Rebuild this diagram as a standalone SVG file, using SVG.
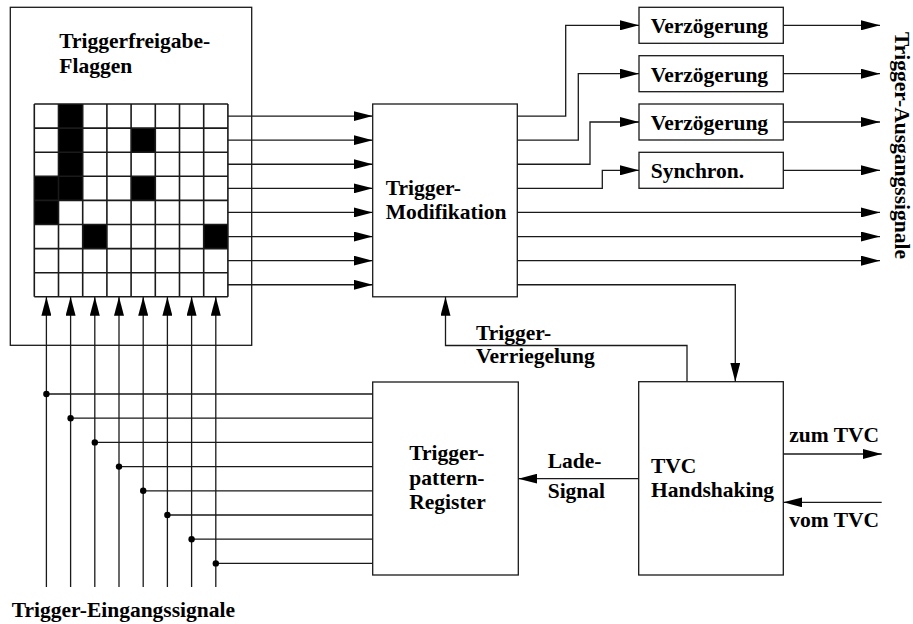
<svg xmlns="http://www.w3.org/2000/svg" width="913" height="624" viewBox="0 0 913 624">
<style>
.b{fill:#fff;stroke:#1a1a1a;stroke-width:1.3}
.t{font-family:"Liberation Serif","Times New Roman",serif;font-weight:bold;font-size:21.5px;fill:#000}
.c{fill:none;stroke:#1a1a1a;stroke-width:1.3}
.g{fill:none;stroke:#1a1a1a;stroke-width:1.6}
</style>
<defs>
<marker id="ah" viewBox="0 0 19 10" refX="19" refY="5" markerWidth="19" markerHeight="10" markerUnits="userSpaceOnUse" orient="auto">
<path d="M0 0L19 5L0 10z" fill="#000"/>
</marker>
</defs>
<rect width="913" height="624" fill="#fff"/>

<g id="flags">
<rect class="b" x="10.3" y="7.3" width="241.4" height="338"/>
<text class="t" x="59.3" y="47.7">Triggerfreigabe-</text>
<text class="t" x="59.3" y="72.7">Flaggen</text>
<g fill="#000">
<rect x="58.5" y="104" width="24.2" height="72.3"/>
<rect x="131.1" y="128.1" width="24.2" height="24.1"/>
<rect x="34.3" y="176.3" width="48.4" height="24.1"/>
<rect x="131.1" y="176.3" width="24.2" height="24.1"/>
<rect x="34.3" y="200.4" width="24.2" height="24.1"/>
<rect x="82.7" y="224.5" width="24.2" height="24.1"/>
<rect x="203.7" y="224.5" width="24.2" height="24.1"/>
</g>
<path class="g" d="M34.3 104V296.8M58.5 104V296.8M82.7 104V296.8M106.9 104V296.8M131.1 104V296.8M155.3 104V296.8M179.5 104V296.8M203.7 104V296.8M227.9 104V296.8M34.3 104H227.9M34.3 128.1H227.9M34.3 152.2H227.9M34.3 176.3H227.9M34.3 200.4H227.9M34.3 224.5H227.9M34.3 248.6H227.9M34.3 272.7H227.9M34.3 296.8H227.9"/>
</g>

<g id="modifikation">
<rect class="b" x="372.7" y="104" width="144.6" height="192.8"/>
<text class="t" x="385.7" y="195">Trigger-</text>
<text class="t" x="385.7" y="219.3">Modifikation</text>
</g>

<g id="delay1">
<rect class="b" x="639" y="7.3" width="144.3" height="36"/>
<text class="t" x="650.7" y="33.3">Verzögerung</text>
</g>
<g id="delay2">
<rect class="b" x="639" y="55.7" width="144.3" height="36"/>
<text class="t" x="650.7" y="81.7">Verzögerung</text>
</g>
<g id="delay3">
<rect class="b" x="639" y="104" width="144.3" height="36"/>
<text class="t" x="650.7" y="130">Verzögerung</text>
</g>
<g id="synchron">
<rect class="b" x="639" y="152.3" width="144.3" height="36"/>
<text class="t" x="650.7" y="178.3">Synchron.</text>
</g>

<g id="register">
<rect class="b" x="372.7" y="382" width="145.6" height="193"/>
<text class="t" x="409.3" y="460">Trigger-</text>
<text class="t" x="409.3" y="484.5">pattern-</text>
<text class="t" x="409.3" y="509">Register</text>
</g>

<g id="tvc">
<rect class="b" x="638.7" y="381.7" width="144.6" height="193.3"/>
<text class="t" x="651" y="472.7">TVC</text>
<text class="t" x="651" y="497.3">Handshaking</text>
</g>

<g id="labels">
<text class="t" transform="translate(895 32) rotate(90)">Trigger-Ausgangssignale</text>
<text class="t" x="11.7" y="617.3">Trigger-Eingangssignale</text>
<text class="t" x="476" y="340">Trigger-</text>
<text class="t" x="476" y="363.3">Verriegelung</text>
<text class="t" x="547.7" y="468.3">Lade-</text>
<text class="t" x="547.7" y="498.3">Signal</text>
<text class="t" x="789.3" y="441.7">zum TVC</text>
<text class="t" x="789.3" y="526.7">vom TVC</text>
</g>

<g id="connectors" class="c" marker-end="url(#ah)">
<path class="c" marker-end="url(#ah)" d="M227.9 116.05H372.7"/>
<path class="c" marker-end="url(#ah)" d="M227.9 140.15H372.7"/>
<path class="c" marker-end="url(#ah)" d="M227.9 164.25H372.7"/>
<path class="c" marker-end="url(#ah)" d="M227.9 188.35H372.7"/>
<path class="c" marker-end="url(#ah)" d="M227.9 212.45H372.7"/>
<path class="c" marker-end="url(#ah)" d="M227.9 236.55H372.7"/>
<path class="c" marker-end="url(#ah)" d="M227.9 260.65H372.7"/>
<path class="c" marker-end="url(#ah)" d="M227.9 284.75H372.7"/>

<path class="c" marker-end="url(#ah)" d="M517.3 116.05H565.7V25.3H639"/>
<path class="c" marker-end="url(#ah)" d="M517.3 140.15H578.3V73.7H639"/>
<path class="c" marker-end="url(#ah)" d="M517.3 164.25H590V122H639"/>
<path class="c" marker-end="url(#ah)" d="M517.3 188.35H602.3V170.3H639"/>
<path class="c" marker-end="url(#ah)" d="M517.3 212.45H880"/>
<path class="c" marker-end="url(#ah)" d="M517.3 236.55H880"/>
<path class="c" marker-end="url(#ah)" d="M517.3 260.65H880"/>
<path class="c" marker-end="url(#ah)" d="M517.3 284.75H735.3V381.7"/>

<path class="c" marker-end="url(#ah)" d="M783.3 25.3H880"/>
<path class="c" marker-end="url(#ah)" d="M783.3 73.7H880"/>
<path class="c" marker-end="url(#ah)" d="M783.3 122H880"/>
<path class="c" marker-end="url(#ah)" d="M783.3 170.3H880"/>

<path class="c" marker-end="url(#ah)" d="M687 381.7V345.5H445.5V296.8"/>
<path class="c" marker-end="url(#ah)" d="M638.7 478.7H518.3"/>
<path class="c" marker-end="url(#ah)" d="M783.3 454H881.7"/>
<path class="c" marker-end="url(#ah)" d="M881.7 502.3H783.3"/>

<path class="c" marker-end="url(#ah)" d="M46.4 587V296.8"/>
<path class="c" marker-end="url(#ah)" d="M70.6 587V296.8"/>
<path class="c" marker-end="url(#ah)" d="M94.8 587V296.8"/>
<path class="c" marker-end="url(#ah)" d="M119 587V296.8"/>
<path class="c" marker-end="url(#ah)" d="M143.2 587V296.8"/>
<path class="c" marker-end="url(#ah)" d="M167.4 587V296.8"/>
<path class="c" marker-end="url(#ah)" d="M191.6 587V296.8"/>
<path class="c" marker-end="url(#ah)" d="M215.8 587V296.8"/>

<path class="c" marker-end="none" d="M46.4 394H372.7M70.6 418.2H372.7M94.8 442.4H372.7M119 466.6H372.7M143.2 490.8H372.7M167.4 515H372.7M191.6 539.2H372.7M215.8 563.4H372.7"/>
<g fill="#000" stroke="none">
<circle cx="46.4" cy="394" r="3.2"/>
<circle cx="70.6" cy="418.2" r="3.2"/>
<circle cx="94.8" cy="442.4" r="3.2"/>
<circle cx="119" cy="466.6" r="3.2"/>
<circle cx="143.2" cy="490.8" r="3.2"/>
<circle cx="167.4" cy="515" r="3.2"/>
<circle cx="191.6" cy="539.2" r="3.2"/>
<circle cx="215.8" cy="563.4" r="3.2"/>
</g>
</g>
</svg>
